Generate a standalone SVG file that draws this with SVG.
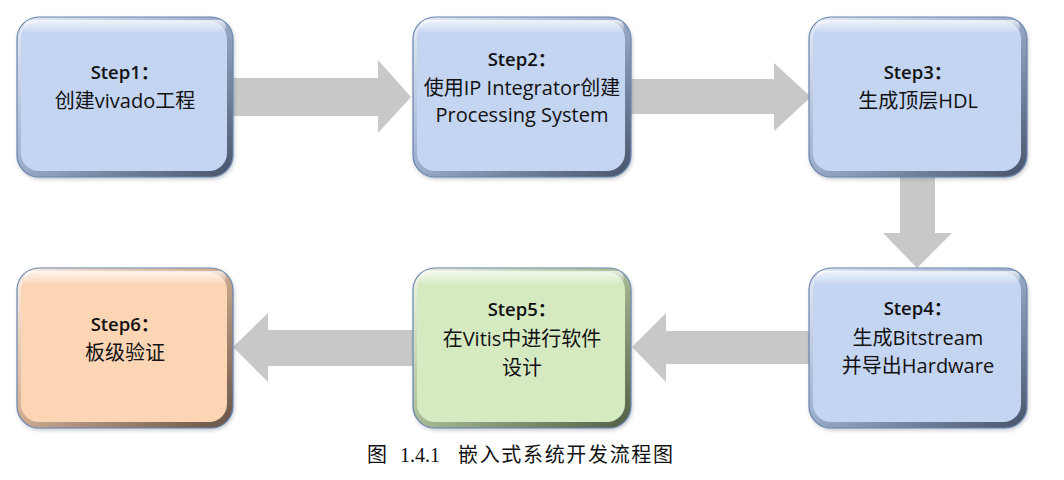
<svg xmlns="http://www.w3.org/2000/svg" width="1064" height="480" viewBox="0 0 1064 480">
<style>
.t{font-family:"Open Sans","Noto Sans CJK SC",sans-serif;font-size:20px;fill:#111;text-anchor:middle}
.tb{font-family:"Open Sans","Noto Sans CJK SC",sans-serif;font-size:18.5px;font-weight:600;fill:#111;text-anchor:middle}
.arrow{fill:#c8c8c8}
.cap{font-family:"Liberation Serif","Noto Sans CJK SC",serif;font-size:20px;fill:#111}
.edge{stroke:#6a86b0;stroke-width:1.2}
</style>
<defs>
<linearGradient id="bevB" x1="0" y1="0" x2="1" y2="1">
<stop offset="0" stop-color="#e4ebf7"/><stop offset="0.45" stop-color="#a0b2d0"/><stop offset="1" stop-color="#46536a"/>
</linearGradient>
<linearGradient id="bevG" x1="0" y1="0" x2="1" y2="1">
<stop offset="0" stop-color="#eef6e4"/><stop offset="0.45" stop-color="#b0c29c"/><stop offset="1" stop-color="#505d44"/>
</linearGradient>
<linearGradient id="bevO" x1="0" y1="0" x2="1" y2="1">
<stop offset="0" stop-color="#fdeee2"/><stop offset="0.45" stop-color="#d4b196"/><stop offset="1" stop-color="#665244"/>
</linearGradient>
<linearGradient id="hl" x1="0" y1="0" x2="0" y2="1">
<stop offset="0" stop-color="#fff" stop-opacity="0.75"/><stop offset="1" stop-color="#fff" stop-opacity="0"/>
</linearGradient>
<filter id="sh" x="-10%" y="-10%" width="130%" height="130%">
<feGaussianBlur stdDeviation="2"/>
</filter>
</defs>
<rect width="1064" height="480" fill="#fff"/>
<g id="connectors">
<polygon class="arrow" points="233,78 378,78 378,60 411,97 378,133 378,116 233,116"/>
<polygon class="arrow" points="631,79 774,79 774,63 811,97 774,131 774,114 631,114"/>
<polygon class="arrow" points="900,177 935,177 935,233 952,233 917,268 883,233 900,233"/>
<polygon class="arrow" points="809,331 666,331 666,313 632,347 666,382 666,364 809,364"/>
<polygon class="arrow" points="413,330 268,330 268,313 233,347 268,382 268,366 413,366"/>
</g>
<g id="step1">
<rect x="18" y="19" width="216" height="160" rx="22" fill="#6b7488" opacity="0.45" filter="url(#sh)"/>
<rect class="edge" x="17" y="17" width="216" height="160" rx="22" fill="url(#bevB)"/>
<rect x="21" y="21" width="206" height="150" rx="18" fill="#c4d5f1"/>
<rect x="24" y="20" width="202" height="14" rx="7" fill="url(#hl)"/>
<text class="tb" x="125" y="79">Step1：</text>
<text class="t" x="125" y="108">创建vivado工程</text>
</g>
<g id="step2">
<rect x="414" y="19" width="218" height="160" rx="22" fill="#6b7488" opacity="0.45" filter="url(#sh)"/>
<rect class="edge" x="413" y="17" width="218" height="160" rx="22" fill="url(#bevB)"/>
<rect x="417" y="21" width="208" height="150" rx="18" fill="#c4d5f1"/>
<rect x="420" y="20" width="204" height="14" rx="7" fill="url(#hl)"/>
<text class="tb" x="522" y="66">Step2：</text>
<text class="t" x="522" y="95">使用IP Integrator创建</text>
<text class="t" x="522" y="122">Processing System</text>
</g>
<g id="step3">
<rect x="810" y="19" width="218" height="160" rx="22" fill="#6b7488" opacity="0.45" filter="url(#sh)"/>
<rect class="edge" x="809" y="17" width="218" height="160" rx="22" fill="url(#bevB)"/>
<rect x="813" y="21" width="208" height="150" rx="18" fill="#c4d5f1"/>
<rect x="816" y="20" width="204" height="14" rx="7" fill="url(#hl)"/>
<text class="tb" x="918" y="79">Step3：</text>
<text class="t" x="918" y="108">生成顶层HDL</text>
</g>
<g id="step4">
<rect x="810" y="270" width="218" height="160" rx="22" fill="#6b7488" opacity="0.45" filter="url(#sh)"/>
<rect class="edge" x="809" y="268" width="218" height="160" rx="22" fill="url(#bevB)"/>
<rect x="813" y="272" width="208" height="150" rx="18" fill="#c4d5f1"/>
<rect x="816" y="271" width="204" height="14" rx="7" fill="url(#hl)"/>
<text class="tb" x="918" y="315">Step4：</text>
<text class="t" x="918" y="345">生成Bitstream</text>
<text class="t" x="918" y="373">并导出Hardware</text>
</g>
<g id="step5">
<rect x="414" y="270" width="218" height="160" rx="22" fill="#6b7488" opacity="0.45" filter="url(#sh)"/>
<rect class="edge" x="413" y="268" width="218" height="160" rx="22" fill="url(#bevG)"/>
<rect x="417" y="272" width="208" height="150" rx="18" fill="#d6eac2"/>
<rect x="420" y="271" width="204" height="14" rx="7" fill="url(#hl)"/>
<text class="tb" x="522" y="316">Step5：</text>
<text class="t" x="522" y="346">在Vitis中进行软件</text>
<text class="t" x="522" y="375">设计</text>
</g>
<g id="step6">
<rect x="18" y="270" width="216" height="160" rx="22" fill="#6b7488" opacity="0.45" filter="url(#sh)"/>
<rect class="edge" x="17" y="268" width="216" height="160" rx="22" fill="url(#bevO)"/>
<rect x="21" y="272" width="206" height="150" rx="18" fill="#fcd5b5"/>
<rect x="24" y="271" width="202" height="14" rx="7" fill="url(#hl)"/>
<text class="tb" x="125" y="331">Step6：</text>
<text class="t" x="125" y="360">板级验证</text>
</g>
<g id="caption">
<text class="cap" x="367" y="462">图</text>
<text class="cap" x="400" y="462" font-size="21">1.4.1</text>
<text class="cap" x="458" y="462" textLength="215" lengthAdjust="spacing">嵌入式系统开发流程图</text>
</g>
</svg>
